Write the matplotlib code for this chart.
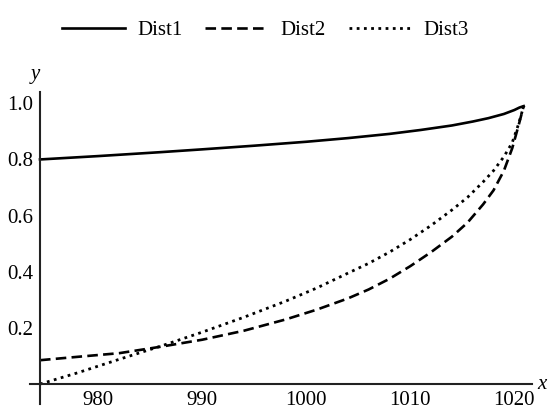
import matplotlib
matplotlib.use('Agg')
import matplotlib.pyplot as plt

plt.rcParams['font.family'] = ['Liberation Serif', 'DejaVu Serif']

# values
x1 = [974.4, 980, 986, 990, 995, 1000, 1004, 1008, 1011, 1014, 1016, 1017.5, 1019, 1020, 1020.5, 1020.9]
dist1 = [0.80, 0.812, 0.826, 0.836, 0.849, 0.863, 0.876, 0.891, 0.905, 0.921, 0.935, 0.947, 0.962, 0.976, 0.985, 0.99]

x23 = [974.4, 978, 982, 986, 990, 994, 998, 1001, 1004, 1006, 1008, 1010, 1012, 1014,
       1015.5, 1017, 1018, 1019, 1019.8, 1020.4, 1020.9]
dist2 = [0.085, 0.097, 0.11, 0.133, 0.158, 0.19, 0.23, 0.265, 0.305, 0.337, 0.375, 0.42, 0.47, 0.525,
         0.575, 0.64, 0.69, 0.76, 0.84, 0.92, 0.99]
dist3 = [0.0, 0.04, 0.088, 0.135, 0.185, 0.238, 0.295, 0.342, 0.395, 0.43, 0.47, 0.515, 0.565, 0.62,
         0.665, 0.72, 0.76, 0.81, 0.86, 0.925, 0.99]

xticks = [980, 990, 1000, 1010, 1020]
yticks = [0.2, 0.4, 0.6, 0.8, 1.0]

fig = plt.figure(figsize=(5.59, 4.11), dpi=100)
ax = fig.add_axes([0.0537, 0.017, 0.898, 0.759])

ax.plot(x1, dist1, color='black', lw=1.9, label='Dist1')
ax.plot(x23, dist2, color='black', lw=1.9, dashes=(4, 2), label='Dist2')
ax.plot(x23, dist3, color='black', lw=2.0, linestyle=(0, (1, 1.6)), label='Dist3')

ax.set_xlim(973.44, 1021.7)
ax.set_ylim(-0.071, 1.04)

# axes crossing at the origin, Mathematica style
ax.spines['left'].set_position(('data', 974.4))
ax.spines['bottom'].set_position(('data', 0))
ax.spines['right'].set_visible(False)
ax.spines['top'].set_visible(False)
for s in ['left', 'bottom']:
    ax.spines[s].set_linewidth(1.5)
    ax.spines[s].set_color('#222222')

ax.set_xticks(xticks)
ax.set_xticklabels([str(t) for t in xticks])
ax.set_yticks(yticks)
ax.set_yticklabels(['%.1f' % t for t in yticks])
ax.tick_params(length=0, labelsize=15, pad=5)

ax.text(1022.2, 0, 'x', style='italic', fontsize=15, va='center', ha='left')
ax.text(974.0, 1.07, 'y', style='italic', fontsize=15, va='bottom', ha='center')

fig.legend(loc='upper center', bbox_to_anchor=(0.475, 0.995), ncol=3, frameon=False,
           fontsize=15, handlelength=3.0, handletextpad=0.6, columnspacing=1.1)

fig.savefig('out.png', dpi=100)
